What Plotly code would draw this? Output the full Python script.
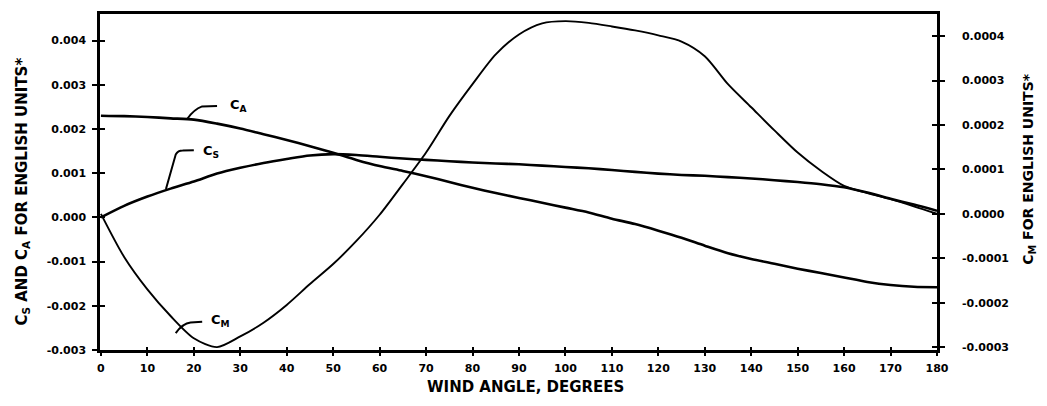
import plotly.graph_objects as go

# Wind angle (degrees) at which the coefficients are tabulated
angle = [0, 5, 10, 15, 20, 25, 30, 35, 40, 45, 50, 55, 60, 65, 70, 75, 80, 85, 90,
         95, 100, 105, 110, 115, 120, 125, 130, 135, 140, 145, 150, 155, 160, 165,
         170, 175, 180]

# Side-force coefficient C_S (left axis)
c_s = [0.0, 0.00026, 0.00047, 0.00065, 0.00081, 0.00099, 0.00112, 0.00123, 0.00132,
       0.00140, 0.00143, 0.00141, 0.00137, 0.00133, 0.00130, 0.00127, 0.00124,
       0.00122, 0.00120, 0.00117, 0.00114, 0.00111, 0.00107, 0.00103, 0.00099,
       0.00096, 0.00094, 0.00091, 0.00088, 0.00084, 0.00080, 0.00075, 0.00068,
       0.00056, 0.00042, 0.00029, 0.00015]

# Axial-force coefficient C_A (left axis)
c_a = [0.00230, 0.00229, 0.00227, 0.00224, 0.00221, 0.00212, 0.00201, 0.00188,
       0.00175, 0.00161, 0.00146, 0.00130, 0.00116, 0.00105, 0.00093, 0.00080,
       0.00067, 0.00055, 0.00044, 0.00033, 0.00022, 0.00011, -0.00003, -0.00015,
       -0.00030, -0.00046, -0.00064, -0.00081, -0.00094, -0.00105, -0.00116,
       -0.00126, -0.00136, -0.00146, -0.00153, -0.00157, -0.00158]

# Yaw-moment coefficient C_M (right axis)
c_m = [0.0, -0.000097, -0.000170, -0.000230, -0.000280, -0.000300, -0.000276,
       -0.000245, -0.000205, -0.000158, -0.000113, -0.000061, -0.000002, 0.000067,
       0.000138, 0.000220, 0.000292, 0.000359, 0.000404, 0.000429, 0.000434,
       0.000430, 0.000422, 0.000413, 0.000402, 0.000388, 0.000355, 0.000292,
       0.000240, 0.000188, 0.000138, 0.000097, 0.000063, 0.000047, 0.000033,
       0.000017, 0.0]

x_ticks = list(range(0, 181, 10))
x_labels = [str(v) for v in x_ticks]

left_ticks = [0.004, 0.003, 0.002, 0.001, 0.0, -0.001, -0.002, -0.003]
left_labels = ["0.004", "0.003", "0.002", "0.001", "0.000", "-0.001", "-0.002", "-0.003"]

right_ticks = [0.0004, 0.0003, 0.0002, 0.0001, 0.0, -0.0001, -0.0002, -0.0003]
right_labels = ["0.0004", "0.0003", "0.0002", "0.0001", "0.0000", "-0.0001",
                "-0.0002", "-0.0003"]

X_RANGE = [-0.2, 180]
Y_RANGE = [-0.003, 0.0046]
Y2_RANGE = [-0.0003065, 0.00045]

FONT = "DejaVu Sans"
tick_font = dict(family=FONT, size=11, color="black", weight="bold")

fig = go.Figure()

fig.add_trace(go.Scatter(x=angle, y=c_a, mode="lines", name="C_A",
                         line=dict(color="black", width=2.6, shape="spline", smoothing=0.8)))
fig.add_trace(go.Scatter(x=angle, y=c_s, mode="lines", name="C_S",
                         line=dict(color="black", width=2.6, shape="spline", smoothing=0.8)))
fig.add_trace(go.Scatter(x=angle, y=c_m, mode="lines", name="C_M", yaxis="y2",
                         line=dict(color="black", width=1.9, shape="spline", smoothing=0.8)))

# empty traces so the inner-tick overlay axes are drawn
fig.add_trace(go.Scatter(x=[None], y=[None], xaxis="x2", yaxis="y3", showlegend=False,
                         hoverinfo="skip"))
fig.add_trace(go.Scatter(x=[None], y=[None], xaxis="x", yaxis="y4", showlegend=False,
                         hoverinfo="skip"))

axis_common = dict(showgrid=False, zeroline=False, linecolor="black", tickcolor="black",
                   tickwidth=2)

fig.update_layout(
    width=1047, height=406,
    margin=dict(l=100, r=110, t=11, b=56),
    plot_bgcolor="white", paper_bgcolor="white",
    showlegend=False,
    xaxis=dict(range=X_RANGE, tickmode="array", tickvals=x_ticks, ticktext=x_labels,
               ticks="outside", ticklen=3, showline=True, linewidth=2.5, mirror=True,
               tickfont=tick_font, ticklabelstandoff=3, **axis_common),
    xaxis2=dict(range=X_RANGE, overlaying="x", anchor="y", side="bottom",
                tickmode="array", tickvals=x_ticks, ticks="inside", ticklen=3,
                showticklabels=False, showline=False, **axis_common),
    yaxis=dict(range=Y_RANGE, tickmode="array", tickvals=left_ticks, ticktext=left_labels,
               ticks="outside", ticklen=5, showline=True, linewidth=2.5, mirror=True,
               tickfont=tick_font, ticklabelstandoff=4, **axis_common),
    yaxis3=dict(range=Y_RANGE, overlaying="y", anchor="x", side="left",
                tickmode="array", tickvals=left_ticks, ticks="inside", ticklen=5,
                showticklabels=False, showline=False, **axis_common),
    yaxis2=dict(range=Y2_RANGE, overlaying="y", anchor="x", side="right",
                tickmode="array", tickvals=right_ticks, ticktext=right_labels,
                ticks="outside", ticklen=5, showline=True, linewidth=2.5,
                tickfont=tick_font, ticklabelstandoff=15, **axis_common),
    yaxis4=dict(range=Y2_RANGE, overlaying="y", anchor="x", side="right",
                tickmode="array", tickvals=right_ticks, ticks="inside", ticklen=5,
                showticklabels=False, showline=False, **axis_common),
)

title_font = dict(family=FONT, size=14, color="black", weight="bold")
label_font = dict(family=FONT, size=13, color="black", weight="bold")

# axis titles
fig.add_annotation(text="WIND ANGLE, DEGREES", xref="paper", yref="paper",
                   x=0.508, y=-0.109, xanchor="center", yanchor="middle",
                   showarrow=False, font=dict(family=FONT, size=15, color="black",
                                              weight="bold"))
fig.add_annotation(text="C<sub>S</sub> AND C<sub>A</sub> FOR ENGLISH UNITS*",
                   xref="paper", yref="paper", x=-0.093, y=0.472, textangle=-90,
                   xanchor="center", yanchor="middle", showarrow=False,
                   font=dict(family=FONT, size=15, color="black", weight="bold"))
fig.add_annotation(text="C<sub>M</sub> FOR ENGLISH UNITS*",
                   xref="paper", yref="paper", x=1.109, y=0.54, textangle=-90,
                   xanchor="center", yanchor="middle", showarrow=False, font=title_font)

# curve labels with hooked leader lines
fig.add_annotation(text="C<sub>A</sub>", x=27.3, y=0.00253, xanchor="left",
                   yanchor="middle", showarrow=False, font=label_font)
fig.add_annotation(text="C<sub>S</sub>", x=21.6, y=0.00150, xanchor="left",
                   yanchor="middle", showarrow=False, font=label_font)
fig.add_annotation(text="C<sub>M</sub>", x=23.2, y=-0.00234, xanchor="left",
                   yanchor="middle", showarrow=False, font=label_font)

leader = dict(color="black", width=2)
fig.add_shape(type="path", xref="x", yref="y", line=leader,
              path="M 18.6,0.00223 Q 20.0,0.00244 21.8,0.00251 L 25.0,0.00252")
fig.add_shape(type="path", xref="x", yref="y", line=leader,
              path="M 14.0,0.00064 L 16.1,0.00142 Q 16.6,0.00151 17.6,0.00151 L 20.0,0.00152")
fig.add_shape(type="path", xref="x", yref="y", line=leader,
              path="M 16.1,-0.00262 Q 17.6,-0.00240 19.3,-0.00238 L 21.8,-0.00236")

fig.write_html("out.html")
